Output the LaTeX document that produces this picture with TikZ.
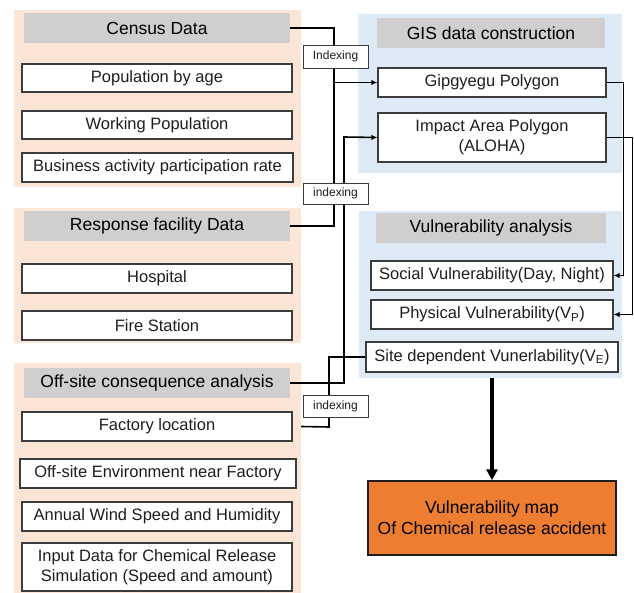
\documentclass[tikz,border=0pt]{standalone}
\usepackage{fontspec}
\setmainfont{Liberation Sans}
\usetikzlibrary{arrows.meta,calc}
\definecolor{peach}{HTML}{FBE5D6}
\definecolor{lblue}{HTML}{DEEBF7}
\definecolor{hgray}{HTML}{D0CECE}
\definecolor{orng}{HTML}{ED7D31}
\definecolor{edgec}{HTML}{3C3C3C}
\definecolor{txt}{HTML}{1E1E1E}
\pgfdeclarelayer{back}\pgfdeclarelayer{mid}\pgfsetlayers{back,mid,main}
\begin{document}
\begin{tikzpicture}[x=1pt,y=-1pt,
  panelP/.style={fill=peach,draw=none,inner sep=0pt},
  panelB/.style={fill=lblue,draw=none,inner sep=0pt},
  hdr/.style={fill=hgray,draw=none,inner sep=0pt,font=\fontsize{17.5}{21}\selectfont,text=black},
  item/.style={draw=edgec,line width=1.2pt,fill=white,inner sep=0pt,align=center,font=\fontsize{16.5}{20}\selectfont,text=txt},
  idx/.style={draw=edgec,line width=0.9pt,fill=white,inner sep=0pt,font=\fontsize{12}{14}\selectfont,text=txt},
  conn/.style={line width=1.6pt,draw=black},
  arr/.style={conn,-{Latex[length=6pt,width=5.5pt]}}]
\useasboundingbox (0,0) rectangle (634,593);
\begin{pgfonlayer}{back}
\node[panelP,minimum width=287,minimum height=177] (p1) at (157.5,98.5) {};
\node[panelP,minimum width=287,minimum height=135] (p2) at (157.5,275.5) {};
\node[panelP,minimum width=287,minimum height=230] (p3) at (157.5,478) {};
\node[panelB,minimum width=264,minimum height=159] (pg) at (490,93.5) {};
\node[panelB,minimum width=263,minimum height=167] (pv) at (490.5,294.5) {};
\end{pgfonlayer}
% headers
\node[hdr,minimum width=266,minimum height=30] (census) at (157,28) {Census Data};
\node[hdr,minimum width=266,minimum height=30] (resp) at (157,226) {Response facility Data};
\node[hdr,minimum width=266,minimum height=30] (off) at (157,383) {Off-site consequence analysis};
\node[hdr,minimum width=228,minimum height=30] (gis) at (491,33) {GIS data construction};
\node[hdr,minimum width=230,minimum height=30] (vul) at (491,228) {Vulnerability analysis};
% items
\node[item,minimum width=270,minimum height=28] (pop) at (157,78) {Population by age};
\node[item,minimum width=270,minimum height=28] (work) at (157,125) {Working Population};
\node[item,minimum width=271,minimum height=29] (bus) at (157.5,167.5) {Business activity participation rate};
\node[item,minimum width=270,minimum height=29] (hosp) at (157,278.5) {Hospital};
\node[item,minimum width=270,minimum height=29] (fire) at (157,325.5) {Fire Station};
\node[item,minimum width=270,minimum height=29] (fact) at (157,426.5) {Factory location};
\node[item,minimum width=276,minimum height=29] (env) at (158,473.5) {Off-site Environment near Factory};
\node[item,minimum width=270,minimum height=29] (wind) at (157,516.5) {Annual Wind Speed and Humidity};
\node[item,minimum width=270,minimum height=48] (input) at (157,567) {Input Data for Chemical Release\\Simulation (Speed and amount)};
\node[item,minimum width=228,minimum height=29] (gip) at (492,82.5) {Gipgyegu Polygon};
\node[item,minimum width=228,minimum height=49] (imp) at (492,137.5) {Impact Area Polygon\\(ALOHA)};
\node[item,minimum width=242,minimum height=29] (soc) at (492,275.5) {Social Vulnerability(Day, Night)};
\node[item,minimum width=242,minimum height=29] (phys) at (492,314.5) {Physical Vulnerability(V\textsubscript{P})};
\node[item,minimum width=252,minimum height=30] (site) at (492,357) {Site dependent Vunerlability(V\textsubscript{E})};
\node[draw=txt,line width=1.4pt,fill=orng,inner sep=0pt,align=center,font=\fontsize{17.5}{21}\selectfont,text=black,minimum width=248,minimum height=74] (map) at (492,518) {Vulnerability map\\Of Chemical release accident};
% indexing labels
\node[idx,minimum width=65,minimum height=23] (i1) at (335.5,56.5) {Indexing};
\node[idx,minimum width=65,minimum height=21] (i2) at (335.5,193.5) {indexing};
\node[idx,minimum width=65,minimum height=22] (i3) at (335.5,406) {indexing};
% connectors
\coordinate (v1) at (334,28);
\coordinate (v2) at (344,137);
\coordinate (v3) at (329,427);
\begin{pgfonlayer}{mid}
\draw[conn] (census.east) -- (v1) -- (v1 |- i1.north);
\draw[conn] (v1 |- i1.south) -- (v1 |- i2.north);
\draw[arr] (v1 |- gip.west) -- (gip.west);
\draw[conn] (resp.east) -| (v1 |- i2.south);
\draw[arr] (off.east) -| (v2) -- (imp.west);
\draw[conn] (site.west) -| (v3) -- (p3.east |- fact.east);
\draw[arr] (gip.east) -- ++(17,0) |- (soc.east);
\draw[arr] (imp.east) -- ++(26,0) |- (phys.east);
\draw[line width=3.8pt,-{Triangle[length=11pt,width=11pt]}] (map.north |- pv.south) -- (map.north);
\end{pgfonlayer}
\end{tikzpicture}
\end{document}
